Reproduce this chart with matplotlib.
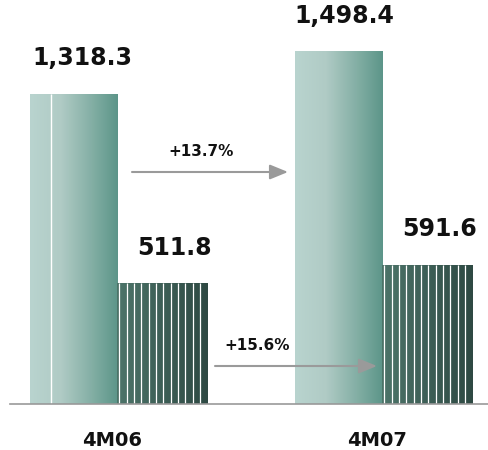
import numpy as np
import matplotlib
matplotlib.use("Agg")
import matplotlib.pyplot as plt
from matplotlib.colors import LinearSegmentedColormap

# ---- data ----
categories = ["4M06", "4M07"]
series_a = [1318.3, 1498.4]   # large bars
series_b = [511.8, 591.6]     # small striped bars
value_labels_a = ["1,318.3", "1,498.4"]
value_labels_b = ["511.8", "591.6"]
growth_labels = ["+13.7%", "+15.6%"]

W, H = 489, 450
fig = plt.figure(figsize=(W / 100, H / 100), dpi=100)
ax = fig.add_axes([0, 0, 1, 1])
ax.set_axis_off()

# scale: px per unit
ppu = 0.2355
base_px = 404  # baseline from top
ax.set_ylim(-(H - base_px) / ppu, base_px / ppu)
gap = 265.0
ax.set_xlim(-118 / gap, (W - 118) / gap)

x = np.arange(len(categories))
width = 0.332

light_cmap = LinearSegmentedColormap.from_list(
    "lt", [(0, "#b9d4cf"), (0.35, "#b0cbc5"), (0.7, "#84afa5"), (1.0, "#5c9589")])
dark_cmap = LinearSegmentedColormap.from_list(
    "dk", [(0, "#4d756a"), (1.0, "#2e4943")])

grad = np.linspace(0, 1, 256).reshape(1, -1)

bars_a = ax.bar(x - width / 2, series_a, width=width, color="none", edgecolor="none", zorder=2)
bars_b = ax.bar(x + width / 2, series_b, width=width * 1.03, color="none", edgecolor="none", zorder=2)

for bars, cmap in ((bars_a, light_cmap), (bars_b, dark_cmap)):
    for p in bars:
        x0, y0 = p.get_x(), p.get_y()
        w, h = p.get_width(), p.get_height()
        im = ax.imshow(grad, cmap=cmap, aspect="auto",
                       extent=[x0, x0 + w, y0, y0 + h], zorder=1,
                       interpolation="bilinear")
        im.set_clip_path(p)

# white stripes on the small bars
for p in bars_b:
    x0, w, h = p.get_x(), p.get_width(), p.get_height()
    xs = x0 + w * np.linspace(0.03, 1, 13)[:-1]
    ax.vlines(xs, 0, h, colors="white", linewidth=0.9, zorder=3)

# single white line in first large bar
p = bars_a[0]
ax.vlines(p.get_x() + p.get_width() * 0.24, 0, p.get_height(),
          colors="white", linewidth=1.0, zorder=3)

ax.set_ylim(ax.get_ylim())
ax.set_xlim(ax.get_xlim())

# baseline
ax.axhline(0, xmin=10 / W, xmax=1, color="#999999", linewidth=1.2, zorder=4)

# value labels
for p, lab, dx in zip(bars_a, value_labels_a, (6, 4)):
    ax.annotate(lab, (p.get_x() + p.get_width() / 2, p.get_height()),
                xytext=(dx, 17), textcoords="offset points",
                ha="center", va="bottom", fontsize=17, fontweight="bold",
                color="#111111")
for p, lab, dx in zip(bars_b, value_labels_b, (9, 9)):
    ax.annotate(lab, (p.get_x() + p.get_width() / 2, p.get_height()),
                xytext=(dx, 17), textcoords="offset points",
                ha="center", va="bottom", fontsize=17, fontweight="bold",
                color="#111111")

# category labels
for xi, c in zip(x, categories):
    ax.annotate(c, (xi, 0), xytext=(-4, -26), textcoords="offset points",
                ha="center", va="center", fontsize=14, fontweight="bold",
                color="#111111")

# growth arrows (axes fraction coordinates)
arrows = [((132, 172), (288, 172), (201.5, 152)),
          ((215, 366), (377, 366), (257.5, 345.5))]
for (s, e, t), lab in zip(arrows, growth_labels):
    ax.annotate("", xy=(e[0] / W, 1 - e[1] / H), xytext=(s[0] / W, 1 - s[1] / H),
                xycoords="axes fraction", textcoords="axes fraction",
                arrowprops=dict(arrowstyle="-|>,head_length=1.1,head_width=0.45",
                                color="#9a9a9a", lw=1.5, shrinkA=0, shrinkB=0),
                zorder=5)
    ax.text(t[0] / W, 1 - t[1] / H, lab, transform=ax.transAxes,
            ha="center", va="center", fontsize=11, fontweight="bold",
            color="#111111", zorder=6)

fig.savefig("out.png", dpi=100)
